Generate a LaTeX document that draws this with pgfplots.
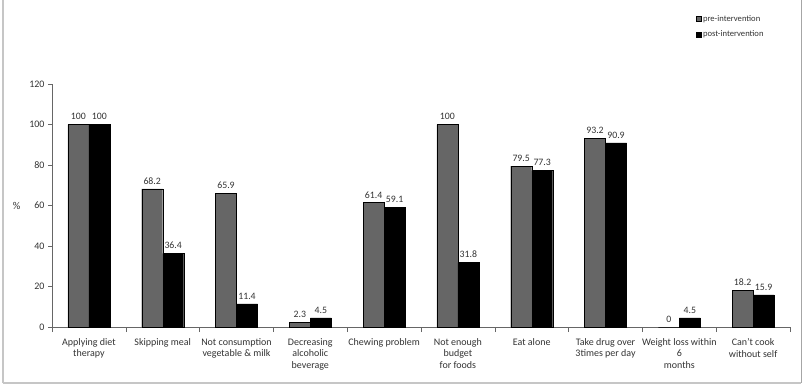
\documentclass[border=0pt]{standalone}
\usepackage{pgfplots}
\pgfplotsset{compat=1.18}
\usepackage{fontspec}
\setmainfont{Carlito}
\definecolor{pregray}{HTML}{666666}
\definecolor{txt}{HTML}{333333}
\begin{document}
\begin{tikzpicture}[x=1pt,y=1pt]
\useasboundingbox (0,0) rectangle (805,391);
\draw[gray!45,line width=1.5pt] (3,8) -- (3,391);
\draw[gray!45,line width=1.5pt] (3,8) -- (801,8);
\draw[gray!70,line width=1pt] (801,8) -- (801,391);
\begin{axis}[
  at={(52pt,64pt)}, anchor=south west,
  scale only axis, width=738pt, height=243pt,
  xmin=-0.5, xmax=9.5, ymin=0, ymax=120,
  ybar=0pt, bar width=21pt,
  axis x line*=bottom, axis y line*=left,
  axis line style={gray!80!black, line width=0.6pt},
  axis line style={-},
  ytick={0,20,...,120},
  xtick={0,...,9},
  major x tick style={draw=none},
  minor xtick={-0.5,0.5,...,9.5},
  minor x tick style={gray!80!black, line width=0.6pt},
  tick align=outside,
  minor tick length=5pt,
  major tick length=4pt,
  y tick style={gray!80!black, line width=0.6pt},
  /pgf/number format/assume math mode=true,
  yticklabel style={font=\fontsize{10}{11}\selectfont, text=txt},
  xticklabel style={font=\fontsize{10}{11.5}\selectfont, text=txt, align=center, yshift=-4pt},
  xticklabels={{Applying diet\\therapy},{Skipping meal},{Not consumption\\vegetable \& milk},{Decreasing\\alcoholic\\beverage},{Chewing problem},{Not enough\\budget\\for foods},{Eat alone},{Take drug over\\3times per day},{Weight loss within\\6\\months},{Can't cook\\without self}},
  ylabel={\%},
  ylabel style={rotate=-90, font=\fontsize{10.5}{12}\selectfont, text=txt},
  ylabel shift=2pt,
  nodes near coords,
  every node near coord/.append style={font=\fontsize{9.8}{11}\selectfont, text=txt, yshift=1pt},
  point meta=explicit symbolic,
  legend style={at={(0.872,1.292)}, anchor=north west, draw=none, fill=none,
    font=\fontsize{8.6}{9}\selectfont, text=txt, row sep=4pt, inner sep=0pt},
  legend cell align=left,
  legend image code/.code={\draw[#1, draw=black, line width=0.3pt] (0pt,-2.5pt) rectangle (5pt,2.5pt);},
  clip=false,
]
\addplot[fill=pregray, draw=black, line width=0.4pt] coordinates {
 (0,100)[100] (1,68.2)[68.2] (2,65.9)[65.9] (3,2.3)[2.3] (4,61.4)[61.4]
 (5,100)[100] (6,79.5)[79.5] (7,93.2)[93.2] (8,0)[0] (9,18.2)[18.2]};
\addplot[fill=black, draw=black, line width=0.4pt] coordinates {
 (0,100)[100] (1,36.4)[36.4] (2,11.4)[11.4] (3,4.5)[4.5] (4,59.1)[59.1]
 (5,31.8)[31.8] (6,77.3)[77.3] (7,90.9)[90.9] (8,4.5)[4.5] (9,15.9)[15.9]};
\legend{pre-intervention, post-intervention}
\end{axis}
\end{tikzpicture}
\end{document}
